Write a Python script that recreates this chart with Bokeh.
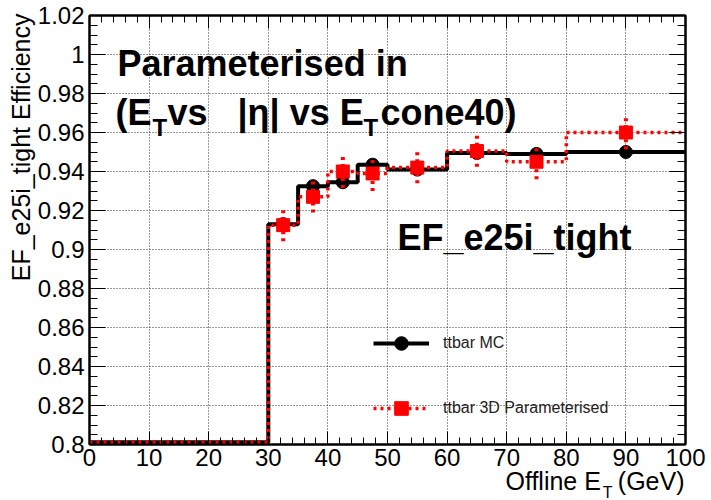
import numpy as np
from bokeh.plotting import figure
from bokeh.models import (Range1d, LinearAxis, SingleIntervalTicker, Label,
                          Legend, LegendItem, CustomJSTickFormatter, Grid, Title)
from bokeh.embed import file_html
from bokeh.resources import INLINE

# ---------------- data ----------------
bin_edges = [0, 30, 35, 40, 45, 50, 60, 70, 80, 100]
mc_eff = [0.0, 0.913, 0.9325, 0.9345, 0.9435, 0.941, 0.9495, 0.949, 0.950]
par_eff = [0.0, 0.9125, 0.927, 0.940, 0.939, 0.942, 0.9505, 0.945, 0.960]
par_err = [0.0, 0.0083, 0.008, 0.0085, 0.009, 0.008, 0.008, 0.009, 0.0086]

X_MIN, X_MAX = 0, 100
Y_MIN, Y_MAX = 0.8, 1.02

FONT = "Liberation Sans"
# frame placement in the canvas (pixels)
FL, FR, FT, FB = 89, 685, 15, 444
W, H = 711, 500

p = figure(width=W, height=H, output_backend="svg", toolbar_location=None,
           x_range=Range1d(X_MIN, X_MAX), y_range=Range1d(Y_MIN, Y_MAX),
           min_border_left=FL, min_border_right=W - FR,
           min_border_top=FT, min_border_bottom=H - FB,
           x_axis_type=None, y_axis_type=None)
p.background_fill_color = "white"
p.border_fill_color = "white"
p.outline_line_color = "black"
p.outline_line_width = 2


def make_axis(kind, show_labels, tick_in, minor_in):
    if kind == "x":
        tk = SingleIntervalTicker(interval=10, num_minor_ticks=5)
    else:
        tk = SingleIntervalTicker(interval=0.02, num_minor_ticks=4)
    ax = LinearAxis(ticker=tk)
    ax.major_tick_out = 0
    ax.minor_tick_out = 0
    ax.major_tick_in = tick_in
    ax.minor_tick_in = minor_in
    ax.major_tick_line_color = "black"
    ax.minor_tick_line_color = "black"
    ax.major_tick_line_width = 1
    ax.minor_tick_line_width = 1
    ax.axis_line_color = "black"
    ax.axis_line_width = 2
    if show_labels:
        ax.major_label_text_font = FONT
        ax.major_label_text_font_size = "24px"
        ax.major_label_text_color = "black"
        ax.major_label_standoff = 5 if kind == "y" else 4
    else:
        ax.formatter = CustomJSTickFormatter(code="return ''")
        ax.major_label_text_font_size = "0px"
        ax.major_label_standoff = 0
    return ax


x_axis = make_axis("x", True, 13, 7)
y_axis = make_axis("y", True, 16, 8)
p.add_layout(x_axis, "below")
p.add_layout(y_axis, "left")
p.add_layout(make_axis("x", False, 13, 7), "above")
p.add_layout(make_axis("y", False, 16, 8), "right")

# y-axis title, placed at the top end of the axis
p.add_layout(Title(text="EF_e25i_tight Efficiency", align="right",
                   text_font=FONT, text_font_size="25px",
                   text_font_style="normal", text_color="black",
                   standoff=0, offset=-2), "left")

# x-axis title "Offline E_T (GeV)": main text plus subscript, right aligned
p.add_layout(Title(text="Offline E\u2009\u2009 (GeV)", align="right",
                   vertical_align="top", text_font=FONT,
                   text_font_size="25px", text_font_style="normal",
                   text_color="black", standoff=-4, offset=1), "below")
p.add_layout(Title(text="T", align="right", vertical_align="top",
                   text_font=FONT, text_font_size="16px",
                   text_font_style="normal", text_color="black",
                   standoff=-21, offset=73), "below")

# grid
p.add_layout(Grid(dimension=0, ticker=x_axis.ticker, grid_line_color="#333",
                  grid_line_dash="1 2", grid_line_width=1), "center")
p.add_layout(Grid(dimension=1, ticker=y_axis.ticker, grid_line_color="#333",
                  grid_line_dash="1 2", grid_line_width=1), "center")

# ---------------- histograms ----------------
edges = np.array(bin_edges, dtype=float)
centers = 0.5 * (edges[:-1] + edges[1:])
floor = Y_MIN + 0.0012


def step_path(vals):
    v = np.maximum(np.array(vals, dtype=float), floor)
    xs = np.repeat(edges, 2)[1:-1]
    ys = np.repeat(v, 2)
    return xs, ys


mc_x, mc_y = step_path(mc_eff)
par_x, par_y = step_path(par_eff)

mc = np.array(mc_eff)
par = np.array(par_eff)
perr = np.array(par_err)
mask_mc = mc > Y_MIN
mask_par = par > Y_MIN

mc_line = p.line(mc_x, mc_y, line_color="black", line_width=4)
mc_pts = p.scatter(centers[mask_mc], mc[mask_mc], marker="circle", size=13,
                   fill_color="black", line_color="black")

par_line = p.line(par_x, par_y, line_color="red", line_width=3.5,
                  line_dash="3 4")
p.segment(x0=centers[mask_par], y0=(par - perr)[mask_par],
          x1=centers[mask_par], y1=(par + perr)[mask_par],
          line_color="red", line_width=4, line_dash="3 4")
par_pts = p.scatter(centers[mask_par], par[mask_par], marker="square", size=13,
                    fill_color="red", line_color="red")

# ---------------- legend ----------------
legend = Legend(items=[LegendItem(label="ttbar MC", renderers=[mc_line, mc_pts]),
                       LegendItem(label="ttbar 3D Parameterised",
                                  renderers=[par_line, par_pts])],
                location=(373 - FL, FB - 425))
legend.border_line_alpha = 0
legend.background_fill_alpha = 0
legend.padding = 0
legend.margin = 0
legend.glyph_width = 56
legend.glyph_height = 34
legend.spacing = 31
legend.label_standoff = 14
legend.label_text_font = FONT
legend.label_text_font_size = "16px"
legend.label_text_color = "#222222"
p.add_layout(legend, "center")


# ---------------- texts ----------------
def lab(text, cx, cy, size, bold=False, **kw):
    l = Label(x=cx - FL, y=FB - cy, x_units="screen", y_units="screen",
              text=text, text_font=FONT, text_font_size=f"{size}px",
              text_font_style="bold" if bold else "normal",
              text_color="black", text_baseline="alphabetic", **kw)
    p.add_layout(l)
    return l


lab("Parameterised in", 117, 63, 36, True)
lab("(E", 115, 112, 36, True)
lab("T", 152, 127, 24, True)
lab("vs", 167, 112, 36, True)
lab("|η| vs E", 237, 112, 36, True)
lab("T", 363, 127, 24, True)
lab("cone40)", 380, 112, 36, True)
lab("EF_e25i_tight", 397, 237, 36, True)

open("out.html", "w").write(file_html(p, INLINE))
